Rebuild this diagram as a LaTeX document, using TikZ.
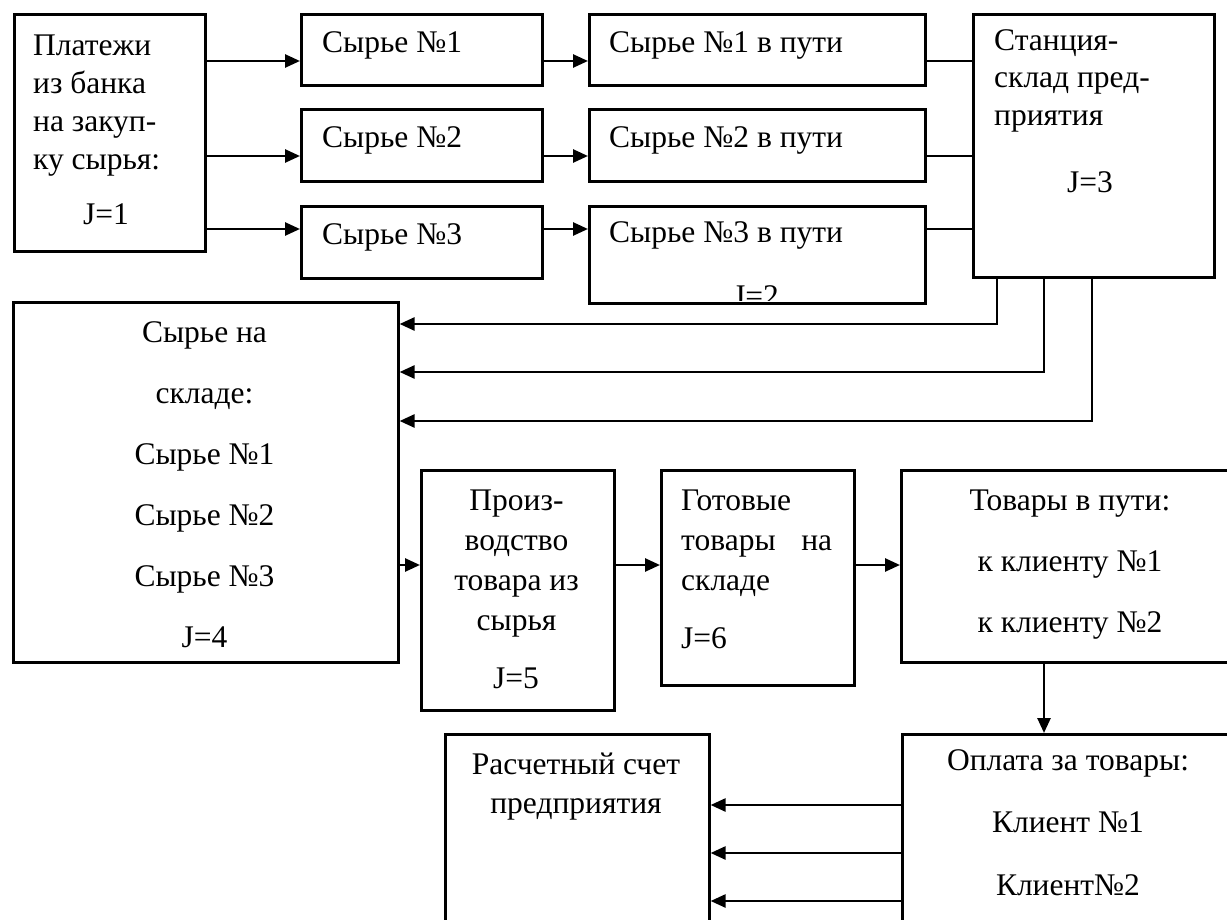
\documentclass[tikz,border=0pt]{standalone}
\usepackage{fontspec}
\setmainfont{Liberation Serif}
\usetikzlibrary{arrows.meta}

\begin{document}
\begin{tikzpicture}[x=1pt,y=-1pt,
  blk/.style={draw,line width=2.6pt,inner sep=0pt,anchor=north west},
  txt/.style={inner sep=0pt,font=\fontsize{31.5}{38}\selectfont},
  arr/.style={-{Triangle[length=15pt,width=13pt]},line width=2.6pt},
  lnk/.style={line width=2.6pt}]
\useasboundingbox (0,0) rectangle (1227,920);
\clip (0,0) rectangle (1227,920);

% top row: payments, raw materials, in transit, station
\node[blk,minimum width=191pt,minimum height=237pt] (pay) at (13,13) {};
\node[txt,anchor=north west,align=left] (pay-txt) at (33,34.4) {Платежи\\из банка\\на закуп-\\ку сырья:};
\node[txt,anchor=base] (pay-j) at (106,225) {J=1};
\foreach \i/\y/\h/\b/\r in {1/13/71/53/61,2/108/72/148/156,3/205/72/245/229}{
  \node[blk,minimum width=241pt,minimum height=\h pt] (s\i) at (300,\y) {};
  \node[txt,anchor=base west] (s\i-txt) at (322,\b) {Сырье №\i};
  \coordinate (r\i) at (0,\r);
}
\foreach \i/\y/\h/\b in {1/13/71/53,2/108/72/148,3/205/97/243}{
  \node[blk,minimum width=336pt,minimum height=\h pt] (p\i) at (588,\y) {};
  \node[txt,anchor=base west] (p\i-txt) at (609,\b) {Сырье №\i{} в пути};
}
\begin{scope}
  \clip (588,205) rectangle (924,301);
  \node[txt,anchor=base] (p3-j) at (756,306) {J=2};
\end{scope}
\node[blk,minimum width=241pt,minimum height=263pt] (st) at (972,13) {};
\node[txt,anchor=north west,align=left,font=\fontsize{31.5}{37.5}\selectfont] (st-txt) at (994,29.4) {Станция-\\склад пред-\\приятия};
\node[txt,anchor=base] (st-j) at (1090,193) {J=3};

% warehouse and production
\node[blk,minimum width=385pt,minimum height=360pt] (sk) at (12,301) {};
\node[txt,anchor=north,align=center,font=\fontsize{31.5}{61}\selectfont] (sk-txt) at (204.5,321.4) {Сырье на\\складе:\\Сырье №1\\Сырье №2\\Сырье №3\\J=4};
\node[blk,minimum width=193pt,minimum height=240pt] (pr) at (420,469) {};
\node[txt,anchor=north,align=center,font=\fontsize{31.5}{40}\selectfont] (pr-txt) at (516.5,489.4) {Произ-\\водство\\товара из\\сырья};
\node[txt,anchor=base] (pr-j) at (516,688) {J=5};
\node[blk,minimum width=193pt,minimum height=215pt] (gt) at (660,469) {};
\node[txt,anchor=north west,align=left,font=\fontsize{31.5}{40}\selectfont] (gt-txt) at (681,489.4) {Готовые\\\makebox[151pt][s]{товары на}\\складе};
\node[txt,anchor=base west] (gt-j) at (681,648) {J=6};
\node[blk,minimum width=340pt,minimum height=192pt] (tv) at (900,469) {};
\node[txt,anchor=north,align=center,font=\fontsize{31.5}{61}\selectfont] (tv-txt) at (1070,489.4) {Товары в пути:\\к клиенту №1\\к клиенту №2};

% bottom row
\node[blk,minimum width=264pt,minimum height=220pt] (rs) at (444,733) {};
\node[txt,anchor=north,align=center,font=\fontsize{31.5}{39}\selectfont] (rs-txt) at (576,752.4) {Расчетный счет\\предприятия};
\node[blk,minimum width=339pt,minimum height=220pt] (op) at (901,733) {};
\node[txt,anchor=north,align=center,font=\fontsize{31.5}{62.5}\selectfont] (op-txt) at (1068,749.4) {Оплата за товары:\\Клиент №1\\Клиент№2};

% connectors
\foreach \i in {1,2,3}{
  \draw[arr] (pay.east |- r\i) -- (s\i.west |- r\i);
  \draw[arr] (s\i.east |- r\i) -- (p\i.west |- r\i);
  \draw[lnk] (p\i.east |- r\i) -- (st.west |- r\i);
}
\coordinate (d1) at (997,324);
\coordinate (d2) at (1044,372);
\coordinate (d3) at (1092,421);
\foreach \i in {1,2,3}
  \draw[arr] (st.south -| d\i) |- (sk.east |- d\i);
\coordinate (m) at (0,565);
\draw[arr] (sk.east |- m) -- (pr.west |- m);
\draw[arr] (pr.east |- m) -- (gt.west |- m);
\draw[arr] (gt.east |- m) -- (tv.west |- m);
\coordinate (v) at (1044,0);
\draw[arr] (tv.south -| v) -- (op.north -| v);
\foreach \yy in {805,853,901}{
  \coordinate (q) at (0,\yy);
  \draw[arr] (op.west |- q) -- (rs.east |- q);
}
\end{tikzpicture}
\end{document}
